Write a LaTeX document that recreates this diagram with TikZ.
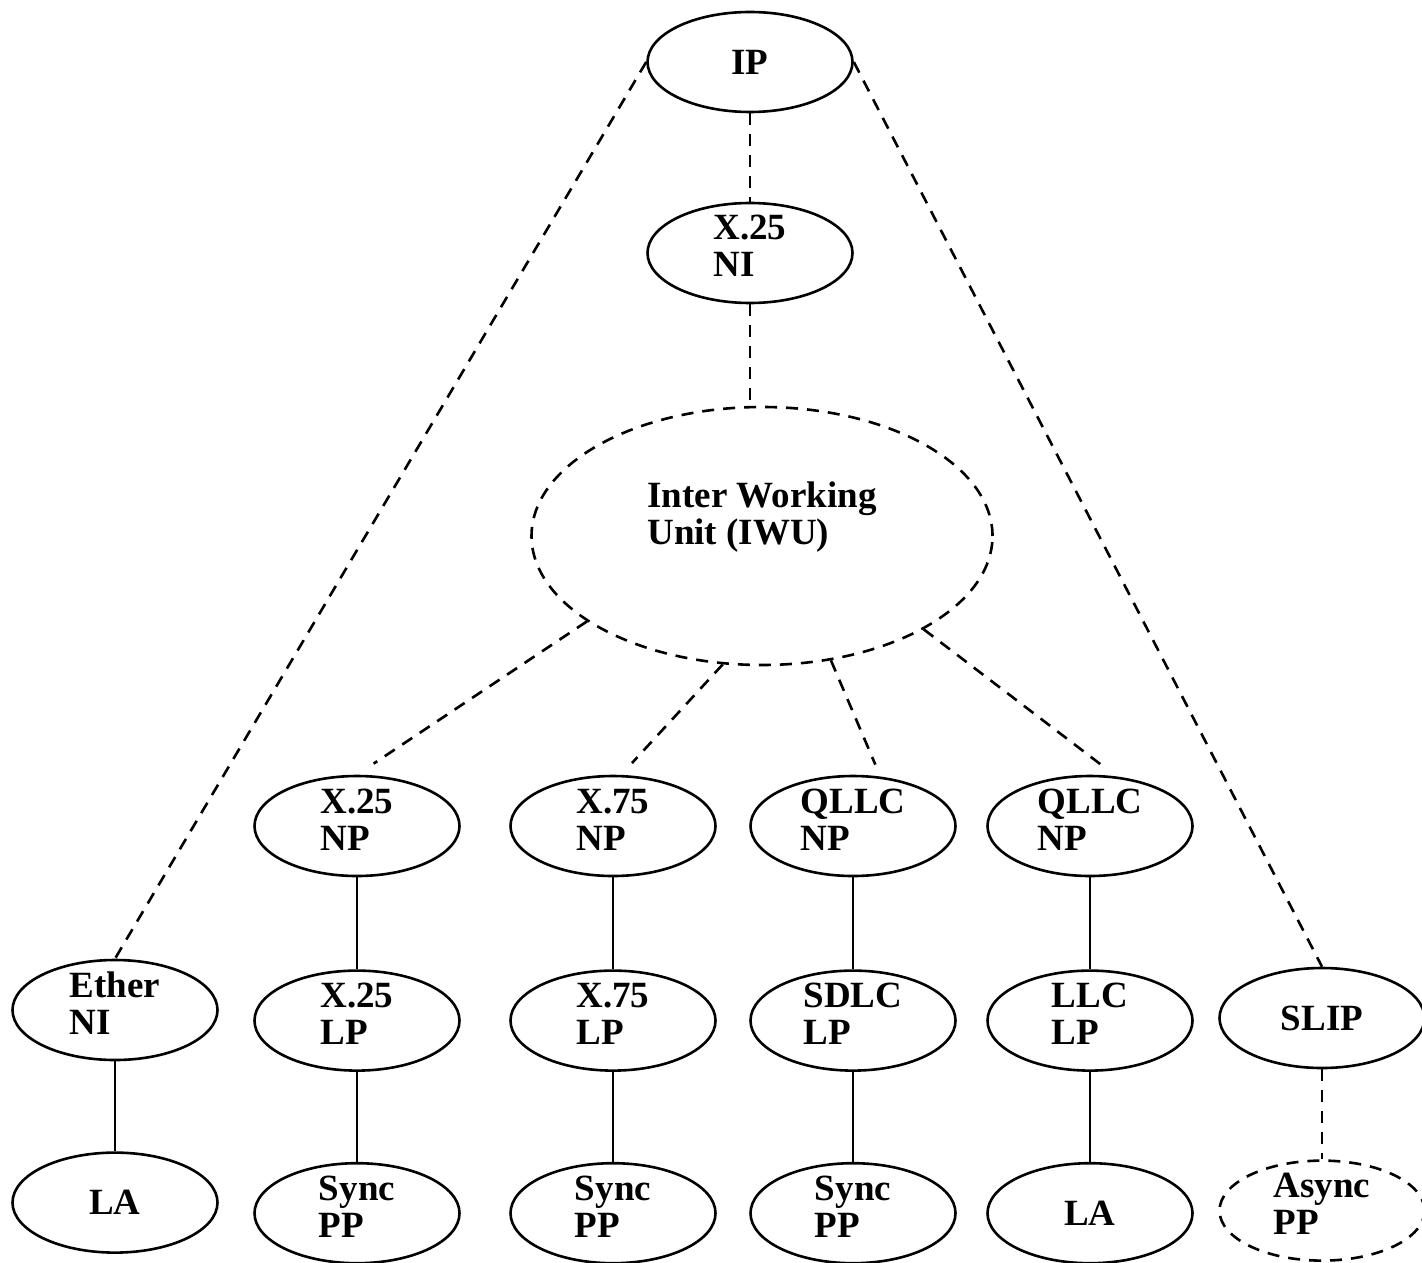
\documentclass[tikz,border=0pt]{standalone}
\usepackage{fontspec}
\setmainfont{Liberation Serif}
\usetikzlibrary{shapes.geometric, positioning}

\begin{document}
\begin{tikzpicture}[
    x=0.5pt, y=-0.5pt,
    proto/.style={ellipse, draw, line width=1.3pt, minimum width=102.5pt, minimum height=50pt,
                  inner sep=0pt, align=left, text height=27.5pt, text depth=3.5pt,
                  font=\fontsize{18.5}{18.5}\selectfont\bfseries},
    solo/.style={text height=, text depth=},
    virt/.style={proto, dash pattern=on 6pt off 4.5pt},
    link/.style={line width=1.3pt},
    weak/.style={link, dash pattern=on 6pt off 4.5pt},
]
    \useasboundingbox (0,0) rectangle (1422,1262);

    % top of the tree
    \node[proto, solo] (ip) at (750,62) {IP};
    \node[proto] (x25ni) at (750,253) {X.25\\NI};
    \node[virt, minimum width=230.5pt, minimum height=129pt, text height=22pt, text depth=13.5pt] (iwu) at (762,536) {Inter Working\\Unit (IWU)};

    % network protocols
    \node[proto] (x25np) at (357,826) {X.25\\NP};
    \node[proto] (x75np) at (613,826) {X.75\\NP};
    \node[proto] (qllcnp) at (853,826) {QLLC\\NP};
    \node[proto] (qllcnpb) at (1090,826) {QLLC\\NP};

    % link protocols
    \node[proto] (ether) at (115,1010) {Ether\\NI};
    \node[proto, below=46pt of x25np] (x25lp) {X.25\\LP};
    \node[proto, below=46pt of x75np] (x75lp) {X.75\\LP};
    \node[proto, below=46pt of qllcnp] (sdlclp) {SDLC\\LP};
    \node[proto, below=46pt of qllcnpb] (llclp) {LLC\\LP};
    \node[proto, solo] (slip) at (1322,1018) {SLIP};

    % physical protocols
    \node[proto, solo, below=45pt of ether] (la) {LA};
    \node[proto, below=45pt of x25lp] (x25pp) {Sync\\PP};
    \node[proto, below=45pt of x75lp] (x75pp) {Sync\\PP};
    \node[proto, below=45pt of sdlclp] (sdlcpp) {Sync\\PP};
    \node[proto, solo, below=45pt of llclp] (llcla) {LA};
    \node[virt, below=45pt of slip] (asyncpp) {Async\\PP};

    % dashed relations
    \draw[weak] (ip) -- (x25ni);
    \draw[weak] (ip.west) -- (ether.north);
    \draw[weak] (ip.east) -- (slip.north);
    \draw[weak] (x25ni.south) -- (x25ni.south |- iwu.north);
    \draw[weak, shorten >=10pt] (iwu.206) -- (x25np.north);
    \draw[weak, shorten >=8pt] (iwu.253) -- (x75np.81);
    \draw[weak, shorten >=6.5pt] (iwu.299) -- (qllcnp.61);
    \draw[weak, shorten >=10pt] (iwu.330) -- (qllcnpb.62);
    \draw[weak] (slip) -- (asyncpp);

    % solid stacks
    \draw[link] (x25np) -- (x25lp);
    \draw[link] (x75np) -- (x75lp);
    \draw[link] (qllcnp) -- (sdlclp);
    \draw[link] (qllcnpb) -- (llclp);
    \draw[link] (ether) -- (la);
    \draw[link] (x25lp) -- (x25pp);
    \draw[link] (x75lp) -- (x75pp);
    \draw[link] (sdlclp) -- (sdlcpp);
    \draw[link] (llclp) -- (llcla);

\end{tikzpicture}
\end{document}
